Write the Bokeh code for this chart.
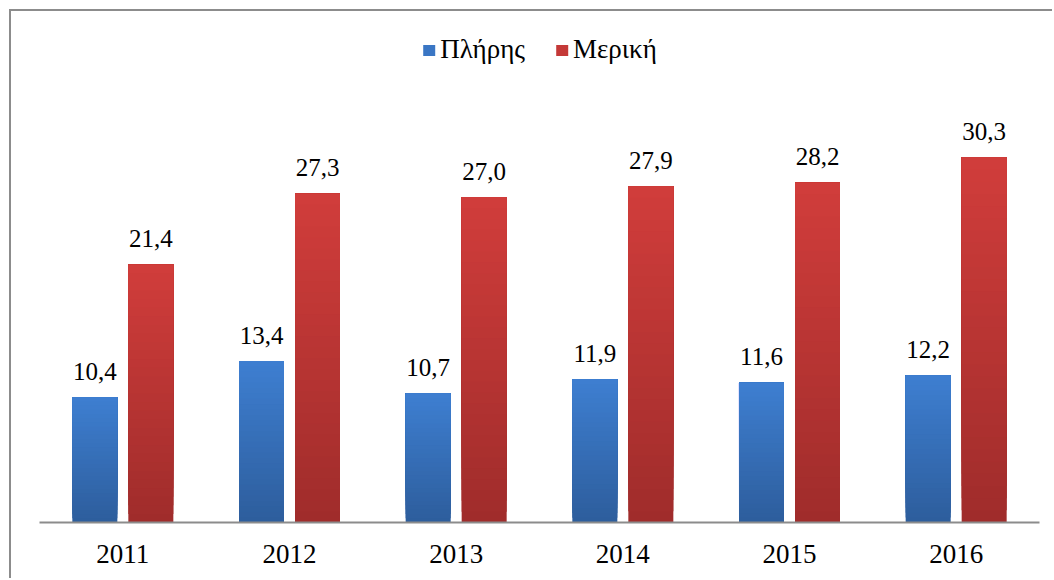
from bokeh.plotting import figure
from bokeh.models import FactorRange, Range1d, LegendItem, Legend, ColumnDataSource
from bokeh.transform import dodge
from bokeh.core.properties import value
from bokeh.embed import file_html
from bokeh.resources import INLINE

years = ["2011", "2012", "2013", "2014", "2015", "2016"]
full_time = [10.4, 13.4, 10.7, 11.9, 11.6, 12.2]
part_time = [21.4, 27.3, 27.0, 27.9, 28.2, 30.3]
series_names = ["Πλήρης", "Μερική"]

blue_top, blue_bottom = "#3e7fd1", "#2d5d9c"
red_top, red_bottom = "#d13d3b", "#9f2c2b"

FONT = "Liberation Serif"


def hex2rgb(h):
    h = h.lstrip("#")
    return tuple(int(h[i:i + 2], 16) for i in (0, 2, 4))


def lerp(c0, c1, t):
    a, b = hex2rgb(c0), hex2rgb(c1)
    return "#%02x%02x%02x" % tuple(round(a[i] + (b[i] - a[i]) * t) for i in range(3))


p = figure(
    x_range=FactorRange(factors=years, range_padding=0),
    y_range=Range1d(0, 42.34),
    width=1043, height=569,
    output_backend="svg", toolbar_location=None,
    min_border_left=28, min_border_right=15,
    min_border_top=1, min_border_bottom=58,
)
p.styles = {
    "margin-left": "9px", "margin-top": "9px",
    "border-left": "2px solid #8c8c8c", "border-top": "2px solid #8c8c8c",
}
p.outline_line_color = None
p.xgrid.visible = False
p.ygrid.visible = False
p.yaxis.visible = False
p.background_fill_color = "white"
p.border_fill_color = "white"

ax = p.xaxis[0]
ax.axis_line_color = "#8c8c8c"
ax.axis_line_width = 2
ax.major_tick_line_color = None
ax.minor_tick_line_color = None
ax.major_label_text_font = FONT
ax.major_label_text_font_size = "27px"
ax.major_label_text_color = "black"
ax.major_label_standoff = 16

N = 30
BAR_W = 0.27
series = [
    (full_time, -0.168, blue_bottom, blue_top),
    (part_time, 0.168, red_bottom, red_top),
]
legend_renderers = []
for vals, off, c_bot, c_top in series:
    top_r = None
    for k in range(N):
        src = ColumnDataSource(dict(x=years, top=vals, bottom=[v * k / N for v in vals]))
        col = lerp(c_bot, c_top, (k + 0.5) / N)
        r = p.vbar(x=dodge("x", off, range=p.x_range), top="top", bottom="bottom",
                   width=BAR_W, source=src, fill_color=col, line_color=None)
        if k == int(N * 0.75):
            top_r = r
    legend_renderers.append(top_r)
    lsrc = ColumnDataSource(dict(x=years, y=vals, label=[f"{v:.1f}".replace(".", ",") for v in vals]))
    p.text(x=dodge("x", off, range=p.x_range), y="y", text="label", source=lsrc,
           text_align="center", text_baseline="alphabetic", y_offset=-26,
           text_font=value(FONT), text_font_size="25px", text_color="black")

legend = Legend(
    items=[LegendItem(label=series_names[i], renderers=[legend_renderers[i]]) for i in range(2)],
    orientation="horizontal", location="top_center",
    glyph_width=15, glyph_height=14, label_standoff=4, spacing=29,
    padding=0, margin=22, border_line_color=None, background_fill_alpha=0,
    label_text_font=FONT, label_text_font_size="27px", label_text_color="black",
    label_height=25,
)
p.add_layout(legend)

open("out.html", "w").write(file_html(p, INLINE))
